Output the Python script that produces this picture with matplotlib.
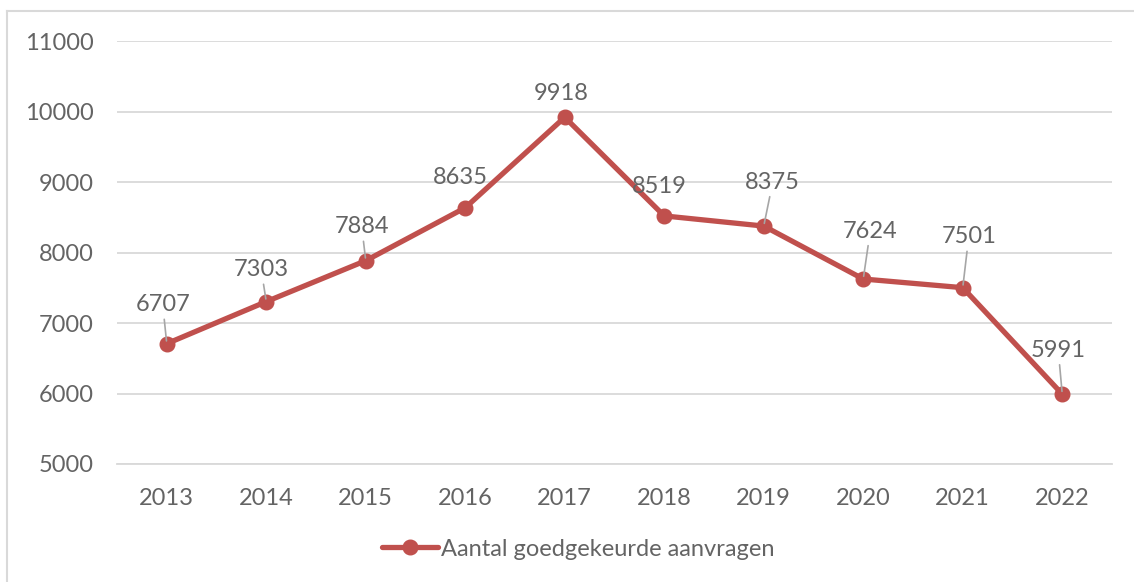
import matplotlib.pyplot as plt
from matplotlib.lines import Line2D

plt.rcParams['font.family'] = ['Lato', 'DejaVu Sans']

# data
jaren = ['2013', '2014', '2015', '2016', '2017', '2018', '2019', '2020', '2021', '2022']
aanvragen = [6707, 7303, 7884, 8635, 9918, 8519, 8375, 7624, 7501, 5991]
serie_naam = 'Aantal goedgekeurde aanvragen'

# label offsets in pixels (dx, dy) and whether a leader line is drawn
label_offsets = [(-4, 39), (-5, 32), (-4, 34), (-5, 30), (-4, 24),
                 (-5, 29), (9, 44), (7, 48), (6, 51), (-4, 44)]
leaders = [True, True, True, False, False, False, True, True, True, True]

rood = '#C0504D'
grijs_tekst = '#646464'
fs = 17

fig = plt.figure(figsize=(11.34, 5.82), dpi=100)
ax = fig.add_axes([117 / 1134, 1 - 464 / 582, (1112 - 117) / 1134, (464 - 41) / 582])

x = list(range(len(jaren)))
ax.plot(x, aanvragen, color=rood, linewidth=3.8, marker='o', markersize=10.5,
        solid_capstyle='round', zorder=3)

for i, (xi, yi) in enumerate(zip(x, aanvragen)):
    dx, dy = label_offsets[i]
    props = None
    if leaders[i]:
        props = dict(arrowstyle='-', color='#A6A6A6', lw=1.2, shrinkA=1, shrinkB=2)
    ax.annotate(str(yi), (xi, yi), xytext=(dx, dy), textcoords='offset pixels',
                ha='center', va='center', fontsize=fs, color=grijs_tekst,
                arrowprops=props, zorder=4)

ax.set_xlim(-0.5, len(jaren) - 0.5)
ax.set_ylim(5000, 11000)
ax.set_yticks(range(5000, 11001, 1000))
ax.set_xticks(x)
ax.set_xticklabels(jaren)

ax.grid(axis='y', color='#D9D9D9', linewidth=1.3)
ax.set_axisbelow(True)
for s in ax.spines.values():
    s.set_visible(False)
ax.spines['bottom'].set_visible(True)
ax.spines['bottom'].set_color('#D9D9D9')
ax.spines['bottom'].set_linewidth(1.3)
ax.tick_params(length=0, labelsize=fs, labelcolor=grijs_tekst)
ax.tick_params(axis='x', pad=17)
ax.tick_params(axis='y', pad=17)

handle = Line2D([], [], color=rood, linewidth=3.8, marker='o', markersize=10.5,
                solid_capstyle='round')
fig.legend([handle], [serie_naam], loc='center', bbox_to_anchor=(578 / 1134, 1 - 549 / 582),
           frameon=False, labelcolor=grijs_tekst, handlelength=2.4,
           handletextpad=0.1, prop={'size': fs})

# light border around the chart area
fig.add_artist(Line2D([7 / 1134, 7 / 1134], [0, 1 - 11 / 582], color='#D9D9D9', lw=1.5))
fig.add_artist(Line2D([7 / 1134, 1], [1 - 11 / 582, 1 - 11 / 582], color='#D9D9D9', lw=1.5))

fig.savefig('out.png', dpi=100, facecolor='white')
